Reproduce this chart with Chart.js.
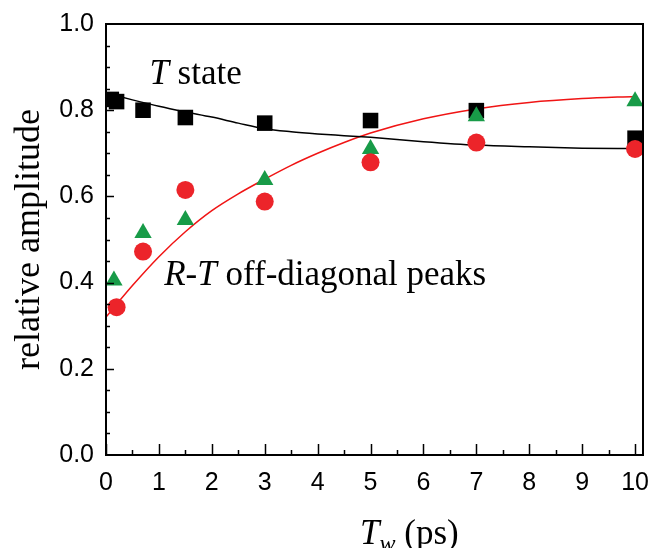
<!DOCTYPE html>
<html>
<head>
<meta charset="utf-8">
<script src="https://cdn.jsdelivr.net/npm/chart.js@4.4.1/dist/chart.umd.min.js"></script>
<style>
  html, body { margin: 0; padding: 0; background: #fff; }
  #wrap { width: 654px; height: 548px; position: relative; }
</style>
</head>
<body>
<div id="wrap"><canvas id="ampChart"></canvas></div>
<script>
// T state (black squares)
let squareX = [0.1, 0.2, 0.7, 1.5, 3, 5, 7, 10];
let squareY = [0.825, 0.82, 0.80, 0.783, 0.770, 0.776, 0.799, 0.735];
// R-T off-diagonal peaks (green triangles, red circles)
let triX = [0.15, 0.7, 1.5, 3, 5, 7, 10];
let triY = [0.405, 0.515, 0.545, 0.638, 0.71, 0.786, 0.821];
let circX = [0.2, 0.7, 1.5, 3, 5, 7, 10];
let circY = [0.343, 0.472, 0.615, 0.588, 0.679, 0.725, 0.71];
// fit curves
let fitX = [0, 0.5, 1, 1.5, 2, 2.5, 3, 3.5, 4, 4.5, 5, 6, 7, 8, 9, 10];
let blackFit = [0.840, 0.824, 0.809, 0.796, 0.784, 0.770, 0.757, 0.750, 0.745, 0.741, 0.737, 0.727, 0.719, 0.715, 0.712, 0.711];
let redFit = [0.32, 0.393, 0.46, 0.518, 0.567, 0.606, 0.64, 0.672, 0.70, 0.725, 0.747, 0.78, 0.803, 0.818, 0.827, 0.832];
// axis ticks
let xTicks = [0, 1, 2, 3, 4, 5, 6, 7, 8, 9, 10];
let yTicks = [0, 0.2, 0.4, 0.6, 0.8, 1.0];

const pts = (xs, ys) => xs.map((x, i) => ({ x: x, y: ys[i] }));
const serif = "'Liberation Serif', 'DejaVu Serif', serif";
const sans = "'Liberation Sans', Arial, sans-serif";

// draws a line of mixed italic/regular text
function richText(ctx, parts, x, y) {
  parts.forEach(p => {
    ctx.font = (p.italic ? "italic " : "") + p.size + "px " + serif;
    ctx.fillText(p.text, x, y + (p.dy || 0));
    x += ctx.measureText(p.text).width;
  });
}

const frameAndLabels = {
  id: "frameAndLabels",
  afterDatasetsDraw(chart) {
    const { ctx, chartArea: a, scales: { x, y } } = chart;
    ctx.save();
    ctx.strokeStyle = "#000";
    ctx.lineWidth = 2;
    ctx.strokeRect(a.left, a.top, a.right - a.left, a.bottom - a.top);
    ctx.lineWidth = 1.5;
    ctx.beginPath();
    // inward ticks on the bottom axis
    for (let v = 0; v <= 10; v += 0.5) {
      const px = Math.round(x.getPixelForValue(v)) + 0.5;
      const len = Number.isInteger(v) ? 11 : 5;
      ctx.moveTo(px, a.bottom);
      ctx.lineTo(px, a.bottom - len);
    }
    // inward ticks on the left axis
    for (let i = 1; i < 20; i++) {
      const py = Math.round(y.getPixelForValue(i * 0.05)) + 0.5;
      const len = i % 4 === 0 ? 8 : 4;
      ctx.moveTo(a.left, py);
      ctx.lineTo(a.left + len, py);
    }
    ctx.stroke();

    ctx.fillStyle = "#000";
    ctx.textBaseline = "alphabetic";
    richText(ctx, [
      { text: "T", italic: true, size: 35 },
      { text: " state", size: 35 }
    ], x.getPixelForValue(0.82), y.getPixelForValue(0.861));
    richText(ctx, [
      { text: "R", italic: true, size: 35 },
      { text: "-", size: 35 },
      { text: "T", italic: true, size: 35 },
      { text: " off-diagonal peaks", size: 35 }
    ], x.getPixelForValue(1.1), y.getPixelForValue(0.394));
    // x axis title
    richText(ctx, [
      { text: "T", italic: true, size: 35 },
      { text: "w", italic: true, size: 24, dy: 7 },
      { text: " (ps)", size: 35 }
    ], 360, 544);
    ctx.restore();
  }
};

let ampCtx = document.getElementById("ampChart").getContext("2d");
let ampChart = new Chart(ampCtx, {
  type: "scatter",
  data: {
    datasets: [
      {
        label: "red circles",
        data: pts(circX, circY),
        pointStyle: "circle",
        pointRadius: 9,
        backgroundColor: "rgb(236, 36, 42)",
        borderWidth: 0,
        order: 0,
      },
      {
        label: "green triangles",
        data: pts(triX, triY),
        pointStyle: "triangle",
        pointRadius: 10,
        backgroundColor: "rgb(24, 155, 72)",
        borderWidth: 0,
        order: 1,
      },
      {
        label: "black squares",
        data: pts(squareX, squareY),
        pointStyle: "rect",
        pointRadius: 11,
        backgroundColor: "#000",
        borderWidth: 0,
        order: 2,
      },
      {
        label: "T state fit",
        data: pts(fitX, blackFit),
        showLine: true,
        cubicInterpolationMode: "monotone",
        borderColor: "#000",
        borderWidth: 1.5,
        pointRadius: 0,
        order: 3,
      },
      {
        label: "R-T fit",
        data: pts(fitX, redFit),
        showLine: true,
        cubicInterpolationMode: "monotone",
        borderColor: "rgb(240, 20, 20)",
        borderWidth: 1.5,
        pointRadius: 0,
        order: 3,
      },
    ],
  },
  options: {
    responsive: true,
    maintainAspectRatio: false,
    animation: false,
    layout: { padding: { left: 0, right: 6, top: 24, bottom: 0 } },
    plugins: { legend: { display: false }, tooltip: { enabled: false } },
    scales: {
      x: {
        type: "linear",
        min: 0,
        max: 10.15,
        afterBuildTicks: s => { s.ticks = xTicks.map(v => ({ value: v })); },
        afterFit: s => { s.height = 93; s.paddingLeft = 0; s.paddingRight = 0; },
        grid: { display: false, drawTicks: false },
        border: { display: false },
        ticks: {
          color: "#000",
          font: { family: sans, size: 25 },
          padding: 13,
          maxRotation: 0,
          autoSkip: false,
        },
      },
      y: {
        min: 0,
        max: 1,
        afterBuildTicks: s => { s.ticks = yTicks.map(v => ({ value: v })); },
        afterFit: s => { s.width = 106; s.paddingTop = 0; s.paddingBottom = 0; },
        grid: { display: false, drawTicks: false },
        border: { display: false },
        ticks: {
          color: "#000",
          font: { family: sans, size: 25 },
          padding: 12,
          callback: v => v.toFixed(1),
        },
        title: {
          display: true,
          text: "relative amplitude",
          color: "#000",
          font: { family: serif, size: 36 },
          padding: { top: 8, bottom: 0 },
        },
      },
    },
  },
  plugins: [frameAndLabels],
});
</script>
</body>
</html>
